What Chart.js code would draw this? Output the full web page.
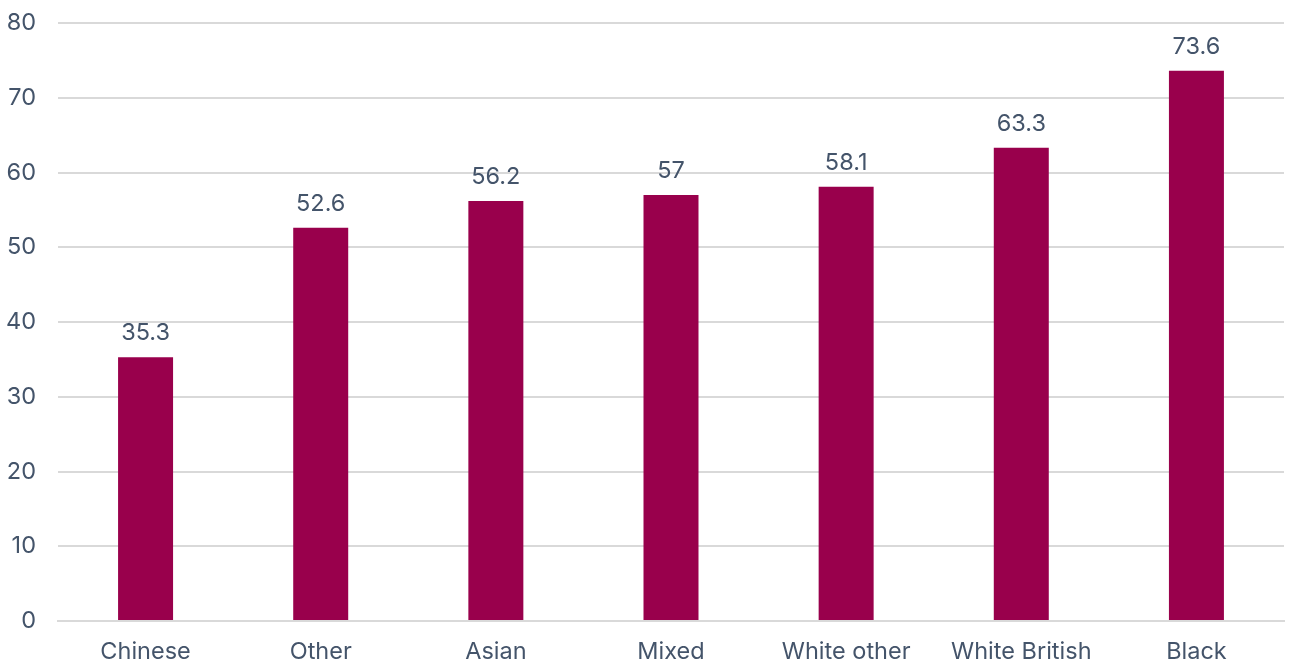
<!DOCTYPE html>
<html>
<head>
<meta charset="utf-8">
<script src="https://cdn.jsdelivr.net/npm/chart.js@4/dist/chart.umd.min.js"></script>
<style>
  html, body { margin: 0; padding: 0; background: #fff; }
  #wrap { width: 1289px; height: 662px; }
</style>
</head>
<body>
<div id="wrap"><canvas id="chart"></canvas></div>
<script>
const categories = ['Chinese', 'Other', 'Asian', 'Mixed', 'White other', 'White British', 'Black'];
const values = [35.3, 52.6, 56.2, 57, 58.1, 63.3, 73.6];
const yTicks = [0, 10, 20, 30, 40, 50, 60, 70, 80];

const barColor = '#99004c';
const textColor = '#44546a';
const fontSize = 23.5;

// simple value labels above each bar
const valueLabels = {
    id: 'valueLabels',
    afterDatasetsDraw(chart) {
        const ctx = chart.ctx;
        const meta = chart.getDatasetMeta(0);
        ctx.save();
        ctx.font = fontSize + 'px Inter';
        ctx.fillStyle = textColor;
        ctx.textAlign = 'center';
        ctx.textBaseline = 'bottom';
        meta.data.forEach((bar, i) => {
            ctx.fillText(String(values[i]), bar.x, bar.y - 12);
        });
        ctx.restore();
    }
};

new Chart(document.getElementById('chart').getContext('2d'), {
    type: 'bar',
    data: {
        labels: categories,
        datasets: [{
            data: values,
            backgroundColor: barColor,
            barPercentage: 0.314,
            categoryPercentage: 1
        }]
    },
    options: {
        responsive: true,
        maintainAspectRatio: false,
        animation: false,
        layout: { padding: { left: 0, right: 5, top: 23, bottom: 0 } },
        plugins: {
            legend: { display: false },
            tooltip: { enabled: false }
        },
        scales: {
            x: {
                afterFit(axis) { axis.height = 41; axis.paddingLeft = 0; axis.paddingRight = 0; },
                grid: { display: false, drawTicks: false },
                border: { display: true, color: '#d9d9d9', width: 2 },
                ticks: { color: textColor, font: { family: 'Inter', size: fontSize }, padding: 17, maxRotation: 0 }
            },
            y: {
                min: 0,
                max: 80,
                afterBuildTicks(axis) { axis.ticks = yTicks.map(v => ({ value: v })); },
                afterFit(axis) { axis.width = 58; axis.paddingTop = 0; axis.paddingBottom = 0; },
                grid: { color: '#d9d9d9', lineWidth: 2, drawTicks: false },
                border: { display: false },
                ticks: { color: textColor, font: { family: 'Inter', size: fontSize }, padding: 22 }
            }
        }
    },
    plugins: [valueLabels]
});
</script>
</body>
</html>
